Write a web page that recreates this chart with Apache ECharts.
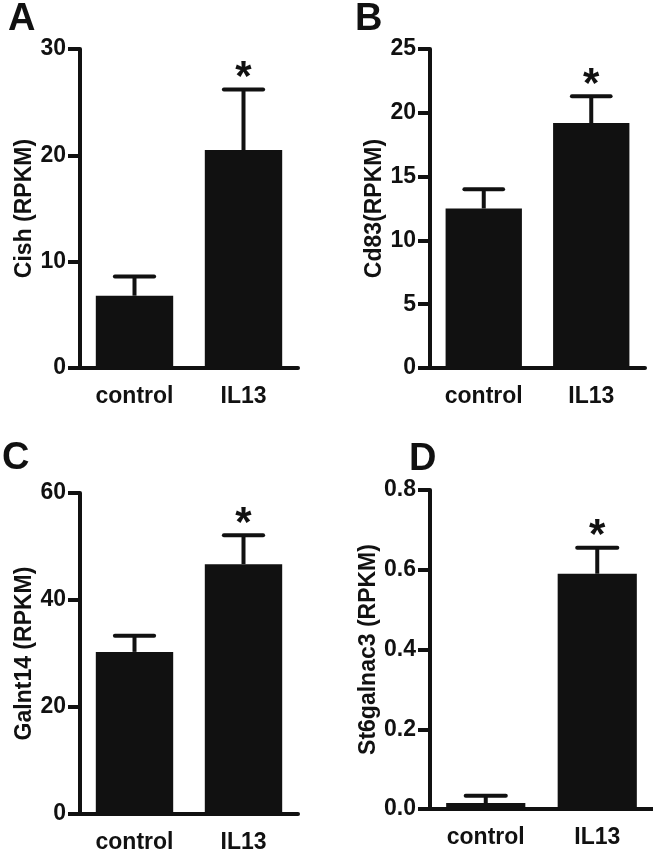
<!DOCTYPE html>
<html>
<head>
<meta charset="utf-8">
<script src="https://cdn.jsdelivr.net/npm/echarts@6/dist/echarts.min.js"></script>
<style>
html,body{margin:0;padding:0;background:#fff;}
#chart{width:653px;height:858px;}
</style>
</head>
<body>
<div id="chart"></div>
<script>
// ---- data ----
var categories = ['control', 'IL13'];
var significance = ['', '*'];

var cishMean = [6.8, 20.5];
var cishErr = [1.8, 5.7];

var cd83Mean = [12.5, 19.2];
var cd83Err = [1.5, 2.1];

var galnt14Mean = [30.3, 46.7];
var galnt14Err = [3.0, 5.4];

var st6Mean = [0.015, 0.59];
var st6Err = [0.018, 0.065];

var panelLetters = ['A', 'B', 'C', 'D'];
var yTitles = ['Cish (RPKM)', 'Cd83(RPKM)', 'Galnt14 (RPKM)', 'St6galnac3 (RPKM)'];
var yMax = [30, 25, 60, 0.8];
var yInterval = [10, 5, 20, 0.2];
var yDecimals = [0, 0, 0, 1];

// ---- layout ----
var INK = '#111111';
var FONT = '"Liberation Sans", Arial, Helvetica, sans-serif';
var grids = [
  {left: 80, top: 49, width: 218, height: 319},
  {left: 430, top: 49, width: 215, height: 319},
  {left: 80, top: 493, width: 218, height: 321},
  {left: 430, top: 490, width: 224, height: 319}
];
var letterPos = [[8, 20], [355, 20], [2, 459], [409, 460]];

var means = [cishMean, cd83Mean, galnt14Mean, st6Mean];
var errs = [cishErr, cd83Err, galnt14Err, st6Err];

var option = {
  backgroundColor: '#ffffff',
  animation: false,
  grid: [], xAxis: [], yAxis: [], series: [], graphic: []
};

function makeRender(dataArr) {
  return function (params, api) {
    var x = api.value(0), v = api.value(1), e = api.value(2);
    var sig = dataArr[params.dataIndex][3];
    var p0 = api.coord([x, v]);
    var p1 = api.coord([x, v + e]);
    var half = api.size([1, 0])[0] * 0.18;
    var children = [
      {type: 'line', shape: {x1: p0[0], y1: p0[1], x2: p1[0], y2: p1[1]},
        style: {stroke: INK, lineWidth: 4}},
      {type: 'line', shape: {x1: p1[0] - half, y1: p1[1], x2: p1[0] + half, y2: p1[1]},
        style: {stroke: INK, lineWidth: 4, lineCap: 'round'}}
    ];
    if (sig) {
      children.push({type: 'text', style: {text: sig, x: p1[0], y: p1[1] - 11,
        fill: INK, font: 'bold 42px ' + FONT, textAlign: 'center', textVerticalAlign: 'middle'}});
    }
    return {type: 'group', children: children};
  };
}

for (var i = 0; i < 4; i++) {
  option.grid.push(grids[i]);
  option.xAxis.push({
    type: 'category', gridIndex: i, data: categories,
    axisLine: {lineStyle: {color: INK, width: 4}},
    axisTick: {alignWithLabel: true, length: 12, lineStyle: {color: INK, width: 4}},
    axisLabel: {color: INK, fontSize: 23, fontWeight: 'bold', fontFamily: FONT, margin: 17}
  });
  (function (dec) {
    option.yAxis.push({
      type: 'value', gridIndex: i, min: 0, max: yMax[i], interval: yInterval[i],
      name: yTitles[i], nameLocation: 'middle', nameGap: 40, nameRotate: 90,
      nameTextStyle: {color: INK, fontSize: 23, fontWeight: 'bold', fontFamily: FONT},
      splitLine: {show: false},
      axisLine: {show: true, lineStyle: {color: INK, width: 4}},
      axisTick: {show: true, length: 12, lineStyle: {color: INK, width: 4}},
      axisLabel: {color: INK, fontSize: 23, fontWeight: 'bold', fontFamily: FONT, margin: 14,
        formatter: function (v) { return v.toFixed(dec); }}
    });
  })(yDecimals[i]);

  option.series.push({
    type: 'bar', xAxisIndex: i, yAxisIndex: i,
    data: means[i], barWidth: '71%',
    itemStyle: {color: INK}
  });

  var errData = [];
  for (var k = 0; k < categories.length; k++) {
    errData.push([k, means[i][k], errs[i][k], significance[k]]);
  }
  option.series.push({
    type: 'custom', xAxisIndex: i, yAxisIndex: i, z: 5,
    data: errData,
    encode: {x: 0, y: 1},
    renderItem: makeRender(errData)
  });

  option.graphic.push({
    type: 'text', x: letterPos[i][0], y: letterPos[i][1],
    style: {text: panelLetters[i], fill: INK, font: 'bold 38px ' + FONT,
      textAlign: 'left', textVerticalAlign: 'middle'}
  });
}

var chart = echarts.init(document.getElementById('chart'), null, {renderer: 'canvas'});
chart.setOption(option);
</script>
</body>
</html>
